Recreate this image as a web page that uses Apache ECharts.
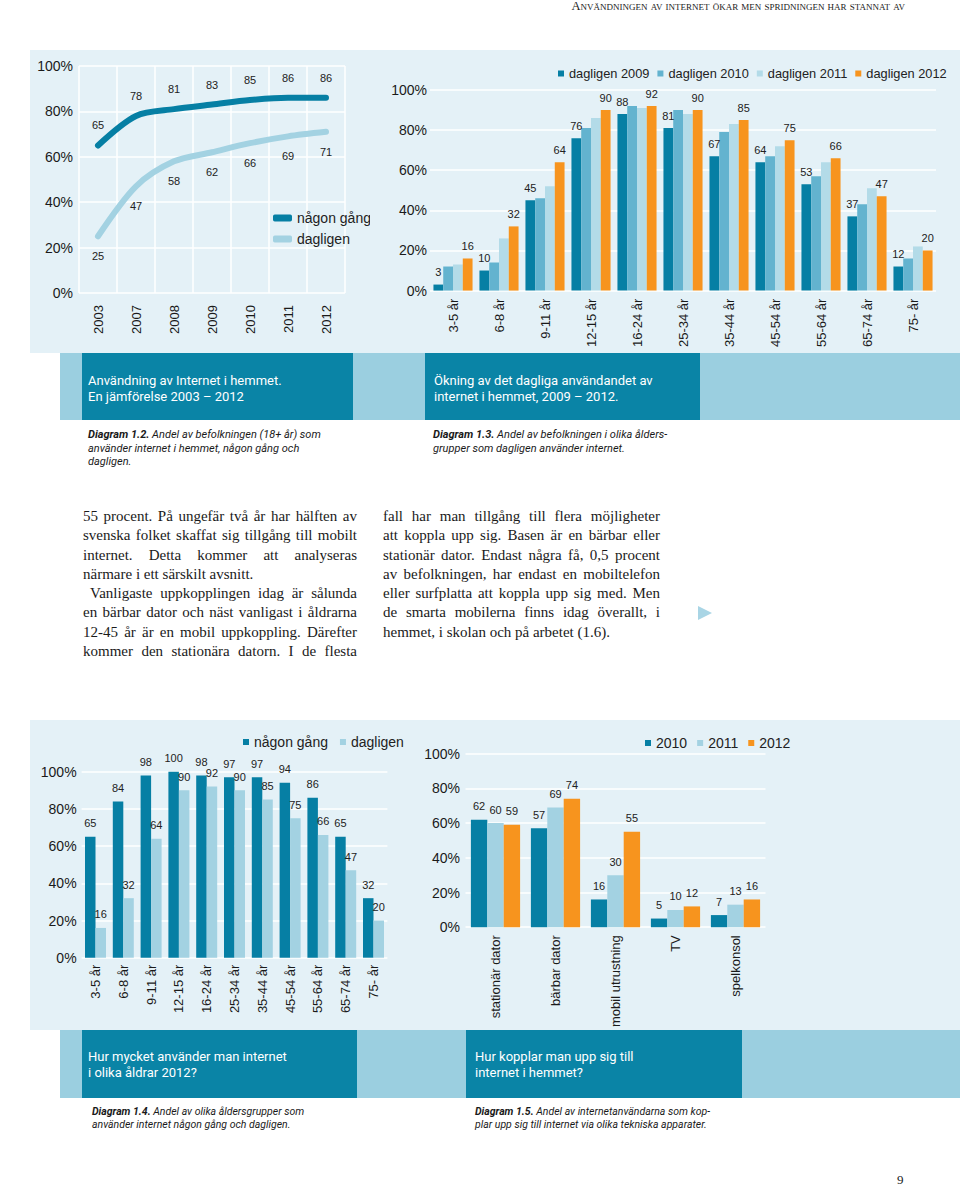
<!DOCTYPE html>
<html><head><meta charset="utf-8">
<script src="https://cdn.jsdelivr.net/npm/echarts@6/dist/echarts.min.js"></script>
<style>
html,body{margin:0;padding:0;background:#fff;}
body{width:960px;height:1189px;position:relative;overflow:hidden;font-family:"Liberation Sans",Arial,sans-serif;}
.abs{position:absolute;}
.panel{background:#e4f1f7;}
.band{background:#9bcfe0;}
.box{background:#0a84a6;color:#fff;font-family:Roboto,"Liberation Sans",sans-serif;font-size:13px;line-height:16px;box-sizing:border-box;padding-left:6px;}
.cap{font-family:Roboto,"Liberation Sans",sans-serif;font-style:italic;font-size:11px;line-height:13.5px;color:#1a1a1a;}
.cap b{font-weight:700;}
.body{font-family:"Liberation Serif","Times New Roman",serif;font-size:15px;line-height:19.3px;color:#1a1a1a;}
.body div{white-space:nowrap;text-align:justify;text-align-last:justify;}
.body div.l{text-align:left;text-align-last:left;}
.chart{position:absolute;}
</style>
</head><body>
<script>
// ---------- data ----------
const years = ['2003','2007','2008','2009','2010','2011','2012'];
const nagonGangYears = [65,78,81,83,85,86,86];
const dagligenYears = [25,47,58,62,66,69,71];

const ageGroups = ['3-5 år','6-8 år','9-11 år','12-15 år','16-24 år','25-34 år','35-44 år','45-54 år','55-64 år','65-74 år','75- år'];
const daily2009 = [3,10,45,76,88,81,67,64,53,37,12];
const daily2010 = [12,14,46,81,92,90,79,67,57,43,16];
const daily2011 = [13,26,52,86,91,88,83,72,64,51,22];
const daily2012 = [16,32,64,90,92,90,85,75,66,47,20];

const nagonGang2012 = [65,84,98,100,98,97,97,94,86,65,32];
const dagligen2012 = [16,32,64,90,92,90,85,75,66,47,20];

const devices = ['stationär dator','bärbar dator','mobil utrustning','TV','spelkonsol'];
const dev2010 = [62,57,16,5,7];
const dev2011 = [60,69,30,10,13];
const dev2012 = [59,74,55,12,16];

const yMin = 0, yMax = 100, yStep = 20;
</script>

<div class="abs" style="left:527px;top:-1px;width:378px;text-align:right;font-family:'Liberation Serif',serif;font-size:12.5px;font-variant:small-caps;color:#1a1a1a;white-space:nowrap;">Användningen av internet ökar men spridningen har stannat av</div>

<div class="abs panel" style="left:30px;top:50px;width:930px;height:303px;"></div>
<div class="abs band" style="left:60px;top:353px;width:900px;height:67px;"></div>
<div class="abs box" style="left:82px;top:353px;width:271px;height:67px;padding-top:20px;">Användning av Internet i hemmet.<br>En jämförelse 2003 – 2012</div>
<div class="abs box" style="left:425px;top:353px;width:275px;height:67px;padding-top:20px;padding-left:9px;">Ökning av det dagliga användandet av<br>internet i hemmet, 2009 – 2012.</div>
<div class="abs cap" style="left:88px;top:428px;">
<b>Diagram 1.2.</b> Andel av befolkningen (18+ år) som<br>använder internet i hemmet, någon gång och<br>dagligen.</div>
<div class="abs cap" style="left:433px;top:428px;">
<b>Diagram 1.3.</b> Andel av befolkningen i olika ålders-<br>grupper som dagligen använder internet.</div>

<div class="abs body" style="left:83px;top:507px;width:274px;">
<div>55 procent. På ungefär två år har hälften av</div>
<div>svenska folket skaffat sig tillgång till mobilt</div>
<div>internet. Detta kommer att analyseras</div>
<div class="l">närmare i ett särskilt avsnitt.</div>
<div style="text-indent:7px;">Vanligaste uppkopplingen idag är sålunda</div>
<div>en bärbar dator och näst vanligast i åldrarna</div>
<div>12-45 år är en mobil uppkoppling. Därefter</div>
<div>kommer den stationära datorn. I de flesta</div>
</div>
<div class="abs body" style="left:383px;top:507px;width:277px;">
<div>fall har man tillgång till flera möjligheter</div>
<div>att koppla upp sig. Basen är en bärbar eller</div>
<div>stationär dator. Endast några få, 0,5 procent</div>
<div>av befolkningen, har endast en mobiltelefon</div>
<div>eller surfplatta att koppla upp sig med. Men</div>
<div>de smarta mobilerna finns idag överallt, i</div>
<div class="l">hemmet, i skolan och på arbetet (1.6).</div>
</div>
<div class="abs" style="left:698px;top:606px;width:0;height:0;border-top:7px solid transparent;border-bottom:7px solid transparent;border-left:14px solid #a9d5e5;"></div>

<div class="abs panel" style="left:30px;top:720px;width:930px;height:310px;"></div>
<div class="abs band" style="left:60px;top:1030px;width:900px;height:68px;"></div>
<div class="abs box" style="left:82px;top:1030px;width:275px;height:68px;padding-top:19px;">Hur mycket använder man internet<br>i olika åldrar 2012?</div>
<div class="abs box" style="left:466px;top:1030px;width:276px;height:68px;padding-top:19px;padding-left:9px;">Hur kopplar man upp sig till<br>internet i hemmet?</div>
<div class="abs cap" style="left:92px;top:1105px;line-height:13px;font-size:10.5px;">
<b>Diagram 1.4.</b> Andel av olika åldersgrupper som<br>använder internet någon gång och dagligen.</div>
<div class="abs cap" style="left:475px;top:1105px;line-height:13px;font-size:10.5px;">
<b>Diagram 1.5.</b> Andel av internetanvändarna som kop-<br>plar upp sig till internet via olika tekniska apparater.</div>

<div class="abs" style="left:897px;top:1172px;font-family:'Liberation Serif',serif;font-size:13px;color:#1a1a1a;">9</div>

<div id="c1" class="chart" style="left:30px;top:50px;width:340px;height:300px;"></div>
<div id="c2" class="chart" style="left:370px;top:50px;width:590px;height:300px;"></div>
<div id="c3" class="chart" style="left:30px;top:720px;width:390px;height:310px;"></div>
<div id="c4" class="chart" style="left:420px;top:720px;width:540px;height:310px;"></div>

<script>
const FONT = '"Liberation Sans", Arial, sans-serif';
const DARK = '#067fa4', MED = '#63b3cf', LIGHT = '#b3dbe8', LIGHT2 = '#a3d2e2', ORANGE = '#f7941e';
const TXT = '#1a1a1a';

function yAxis(margin){
  return {type:'value', min:yMin, max:yMax, interval:yStep,
    axisLabel:{formatter:'{value}%', fontSize:14, color:TXT, margin:margin, fontFamily:FONT},
    splitLine:{lineStyle:{color:'#ffffff', width:1.5}},
    axisLine:{show:false}, axisTick:{show:false}};
}
function xAxis(data, margin, split){
  return {type:'category', data:data, boundaryGap:true,
    axisLabel:{rotate:90, fontSize:13, color:TXT, margin:margin, fontFamily:FONT, interval:0},
    axisLine:{show:false}, axisTick:{show:false},
    splitLine:{show:!!split, interval:0, lineStyle:{color:'#ffffff', width:1.5}}};
}
function lbl(pos, dist){
  return {show:true, position:pos, distance:dist, fontSize:11, color:'#222', fontFamily:FONT};
}

// Chart 1
const c1 = echarts.init(document.getElementById('c1'), null, {renderer:'svg'});
c1.setOption({
  animation:false,
  grid:{left:49, right:25, top:16, bottom:57},
  xAxis: xAxis(years, 12, true),
  yAxis: yAxis(6),
  legend:{orient:'vertical', left:238, top:156, itemWidth:19, itemHeight:7, itemGap:7,
    icon:'roundRect', textStyle:{fontSize:14, color:'#222', fontFamily:FONT},
    data:['någon gång','dagligen']},
  series:[
    {name:'någon gång', type:'line', data:nagonGangYears, smooth:0.3, symbol:'circle', symbolSize:1, showSymbol:true,
     lineStyle:{width:6, color:DARK, cap:'round'}, itemStyle:{color:DARK},
     label:lbl('top',14)},
    {name:'dagligen', type:'line', data:dagligenYears, smooth:0.3, symbol:'circle', symbolSize:1, showSymbol:true,
     lineStyle:{width:6, color:LIGHT2, cap:'round'}, itemStyle:{color:LIGHT2},
     label:lbl('bottom',14)}
  ]
});

// Chart 2
const c2 = echarts.init(document.getElementById('c2'), null, {renderer:'svg'});
function bar2(name, data, color, showLabel){
  return {name:name, type:'bar', data:data, barGap:'0%', barCategoryGap:'15%',
    itemStyle:{color:color}, label: showLabel ? lbl('top',7) : {show:false}};
}
c2.setOption({
  animation:false,
  grid:{left:60, right:24, top:40, bottom:58},
  xAxis: xAxis(ageGroups, 8, false),
  yAxis: yAxis(3),
  legend:{left:183, top:12, width:420, itemWidth:6, itemHeight:6, itemGap:8, icon:'rect',
    textStyle:{fontSize:12.8, color:'#222', fontFamily:FONT},
    data:['dagligen 2009','dagligen 2010','dagligen 2011','dagligen 2012']},
  series:[
    bar2('dagligen 2009', daily2009, DARK, true),
    bar2('dagligen 2010', daily2010, MED, false),
    bar2('dagligen 2011', daily2011, LIGHT, false),
    bar2('dagligen 2012', daily2012, ORANGE, true)
  ]
});

// Chart 3
const c3 = echarts.init(document.getElementById('c3'), null, {renderer:'svg'});
c3.setOption({
  animation:false,
  grid:{left:51.6, right:32.6, top:51.7, bottom:72.3},
  xAxis: xAxis(ageGroups, 7, false),
  yAxis: yAxis(5),
  legend:{left:208, top:10, itemWidth:6, itemHeight:6, itemGap:12, icon:'rect',
    textStyle:{fontSize:14, color:'#222', fontFamily:FONT},
    data:['någon gång','dagligen']},
  series:[
    {name:'någon gång', type:'bar', data:nagonGang2012, barGap:'0%', barCategoryGap:'24.5%',
     itemStyle:{color:DARK}, label:lbl('top',8)},
    {name:'dagligen', type:'bar', data:dagligen2012, barGap:'0%', barCategoryGap:'24.5%',
     itemStyle:{color:LIGHT2}, label:lbl('top',8)}
  ]
});

// Chart 4
const c4 = echarts.init(document.getElementById('c4'), null, {renderer:'svg'});
function bar4(name, data, color){
  return {name:name, type:'bar', data:data, barGap:'0%', barCategoryGap:'18%',
    itemStyle:{color:color}, label:lbl('top',8)};
}
c4.setOption({
  animation:false,
  grid:{left:45.5, right:194.5, top:33.7, bottom:98.5},
  xAxis: xAxis(devices, 8, false),
  yAxis: yAxis(5.5),
  legend:{left:220, top:11, itemWidth:6, itemHeight:6, itemGap:10, icon:'rect',
    textStyle:{fontSize:14, color:'#222', fontFamily:FONT},
    data:['2010','2011','2012']},
  series:[
    bar4('2010', dev2010, DARK),
    bar4('2011', dev2011, LIGHT2),
    bar4('2012', dev2012, ORANGE)
  ]
});
</script>
</body></html>
